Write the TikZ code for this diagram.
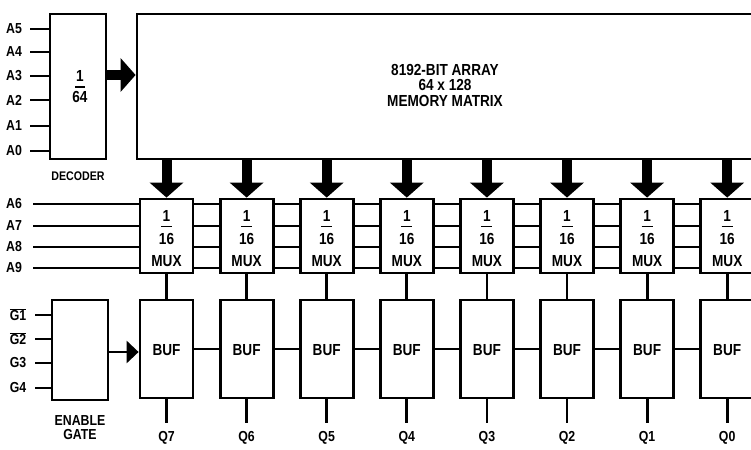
\documentclass[tikz,border=0pt]{standalone}
\usepackage{fontspec}
\setmainfont{Liberation Sans}[FakeStretch=0.85]
\usetikzlibrary{arrows.meta}
\tikzset{
  box/.style={draw, line width=2.8pt, fill=white, inner sep=0pt},
  wire/.style={line width=2.8pt},
  bigarrow/.style={line width=10pt, -{Triangle[width=33pt,length=15pt]}},
  smallarrow/.style={line width=2.8pt, -{Triangle[width=22pt,length=12pt]}},
  lbl/.style={font=\fontsize{14.5}{15}\selectfont\bfseries, inner sep=0pt},
  smlbl/.style={font=\fontsize{12.5}{13}\selectfont\bfseries, inner sep=0pt},
  txt/.style={font=\fontsize{16}{17}\selectfont\bfseries, inner sep=0pt},
  bar/.style={line width=1.4pt}
}
\begin{document}
\begin{tikzpicture}[x=1pt,y=-1pt]
\useasboundingbox (0,0) rectangle (751,449);
\clip (0,0) rectangle (751,449);

% ---- decoder inputs
\foreach \n/\y in {5/29,4/52,3/76,2/100,1/126,0/151}{
  \node[lbl] (la\n) at (14,\y) {A\n};
  \coordinate (sa\n) at (30,\y);
}
\node[box, minimum width=56pt, minimum height=145pt] (dec) at (78,86.5) {};
\foreach \n in {5,4,3,2,1,0}{ \draw[wire] (sa\n) -- (dec.west |- sa\n); }
\node[txt] (d1) at (80,76) {1};
\draw[bar] (75,87) coordinate (db1) -- (85,87) coordinate (db2);
\node[txt] (d64) at (80,97) {64};
\node[smlbl] (decl) at (78,176) {DECODER};

% ---- memory
\node[box, minimum width=663pt, minimum height=145pt] (mem) at (468.5,86.5) {};
\node[txt, align=center] (memt) at (445,85) {8192-BIT ARRAY\\[-1.5pt]64 x 128\\[-1.5pt]MEMORY MATRIX};
\coordinate (dec75) at (0,75);
\draw[bigarrow] (dec.east |- dec75) -- (mem.west |- dec75);

% ---- address lines A6..A9
\foreach \n/\y in {6/204,7/226,8/247,9/268}{
  \node[lbl] (la\n) at (14,\y) {A\n};
  \coordinate (sa\n) at (33,\y);
  \coordinate (ea\n) at (760,\y);
  \draw[wire] (sa\n) -- (ea\n);
}

% ---- enable gate
\foreach \n/\y/\t in {1/315/{$\overline{\mbox{G1}}$},2/339/{$\overline{\mbox{G2}}$},3/363/G3,4/388/G4}{
  \node[lbl] (lg\n) at (18,\y) {\t};
  \coordinate (sg\n) at (35,\y);
}
\node[box, minimum width=56pt, minimum height=100pt] (eg) at (80,350) {};
\foreach \n in {1,2,3,4}{ \draw[wire] (sg\n) -- (eg.west |- sg\n); }
\node[lbl, align=center] (egl) at (80,428) {ENABLE\\[-1pt]GATE};

% ---- columns
\foreach \i/\q in {0/7,1/6,2/5,3/4,4/3,5/2,6/1,7/0}{
  \pgfmathsetmacro{\cx}{166.5+80.1*\i}
  \node[box, minimum width=53pt, minimum height=74pt] (m\i) at (\cx,236) {};
  \node[txt] (mo\i) at (\cx,215.5) {1};
  \draw[bar] (\cx-5.5,226.5) coordinate (mb\i) -- (\cx+5.5,226.5) coordinate (me\i);
  \node[txt] (ms\i) at (\cx,238.5) {16};
  \node[txt] (mx\i) at (\cx,261) {MUX};
  \draw[bigarrow] (mem.south -| m\i) -- (m\i.north);
  \node[box, minimum width=53pt, minimum height=98pt] (b\i) at (\cx,349) {};
  \node[txt] (bt\i) at (\cx,350) {BUF};
  \draw[wire] (m\i.south) -- (b\i.north);
  \coordinate (qe\i) at (\cx,423);
  \draw[wire] (b\i.south) -- (qe\i);
  \node[lbl] (q\i) at (\cx,438) {Q\q};
}
\foreach \i [evaluate=\i as \j using int(\i+1)] in {0,...,6}{
  \draw[wire] (b\i.east) -- (b\j.west);
}
\coordinate (eg352) at (0,352);
\draw[smallarrow] (eg.east |- eg352) -- (b0.west |- eg352);
\end{tikzpicture}
\end{document}
